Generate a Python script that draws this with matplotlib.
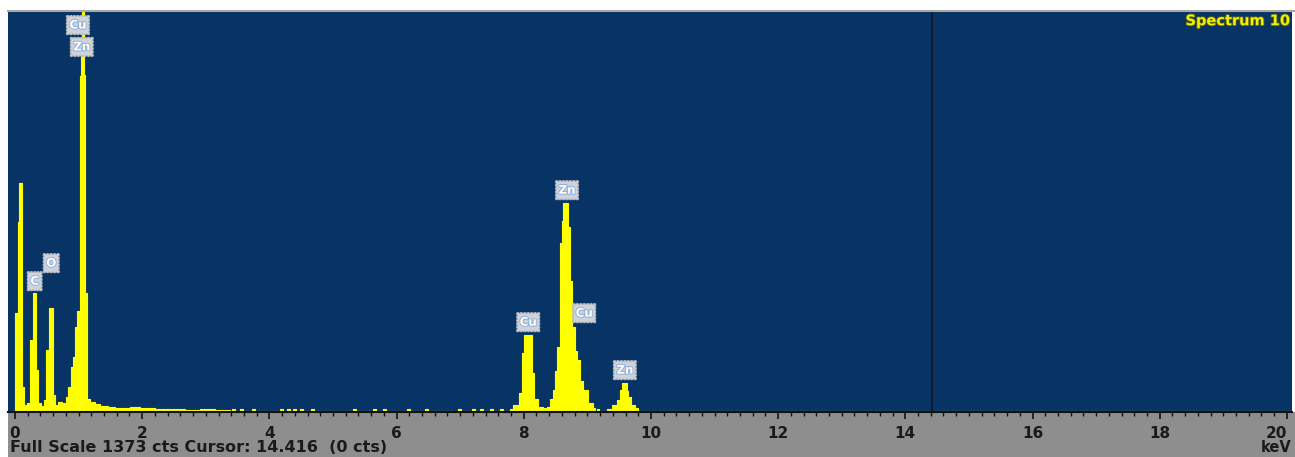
#!/usr/bin/env python3

import matplotlib
matplotlib.use("Agg")
import matplotlib.pyplot as plt
from matplotlib import ticker as mplticker
from matplotlib import patheffects as pe
from matplotlib.patches import Rectangle
from matplotlib.lines import Line2D

# EDS spectrum (step outline, value holds until next energy)
energy_kev = [-0.03, 0.00, 0.05, 0.06, 0.11, 0.14, 0.19, 0.24, 0.28, 0.33,
              0.36, 0.41, 0.46, 0.49, 0.53, 0.60, 0.63, 0.68, 0.74, 0.80,
              0.83, 0.88, 0.91, 0.94, 0.97, 1.02, 1.04, 1.05, 1.08, 1.10,
              1.13, 1.18, 1.26, 1.34, 1.46, 1.57, 1.81, 1.97, 2.20, 2.67,
              2.91, 3.14, 3.38,
              3.41, 3.46, 3.54, 3.58, 3.73, 3.77, 4.17, 4.21, 4.28, 4.32,
              4.37, 4.42, 4.48, 4.53, 4.65, 4.70, 5.31, 5.36, 5.63, 5.68,
              5.79, 5.83, 6.16, 6.21, 6.45, 6.49, 6.97, 7.01, 7.19, 7.23,
              7.31, 7.36, 7.47, 7.52, 7.63, 7.67,
              7.78, 7.83, 7.92, 7.97, 8.00, 8.13, 8.16, 8.22, 8.30, 8.36,
              8.41, 8.46, 8.49, 8.52, 8.57, 8.60, 8.62, 8.69, 8.73, 8.76,
              8.81, 8.84, 8.88, 8.93, 9.01, 9.09, 9.12, 9.15, 9.18, 9.31,
              9.39, 9.47, 9.51, 9.54, 9.62, 9.64, 9.69, 9.75, 9.80, 20.2]
counts = [0, 337, 650, 785, 83, 21, 28, 244, 406, 141,
          28, 17, 38, 210, 354, 55, 21, 31, 28, 48,
          83, 151, 186, 289, 344, 1153, 1222, 1373, 1156, 406,
          41, 31, 24, 17, 14, 10, 14, 10, 7, 3,
          7, 3, 0,
          7, 0, 7, 0, 7, 0, 7, 0, 7, 0,
          7, 0, 7, 0, 7, 0, 7, 0, 7, 0,
          7, 0, 7, 0, 7, 0, 7, 0, 7, 0,
          7, 0, 7, 0, 7, 0,
          7, 21, 62, 200, 262, 131, 41, 14, 10, 14,
          41, 72, 138, 220, 578, 654, 716, 633, 447, 289,
          206, 175, 103, 72, 28, 10, 0, 7, 0, 7,
          21, 38, 72, 96, 69, 48, 21, 10, 0, 0]

# element markers: label, energy (keV), counts
peak_labels = ["Cu", "Zn", "C", "O", "Cu", "Zn", "Cu", "Zn"]
peak_kev = [0.99, 1.05, 0.31, 0.57, 8.07, 8.68, 8.95, 9.59]
peak_cts = [1328, 1253, 447, 509, 306, 760, 337, 141]

full_scale = 1373
cursor_kev = 14.416
tick_values = list(range(0, 21, 2))

W, H = 1295, 457
fig = plt.figure(figsize=(W / 100, H / 100), dpi=100)
fig.patch.set_facecolor("white")

# grey status strip and thin top rule
fig.add_artist(Rectangle((8 / W, 0), 1 - 8 / W, 45 / H, transform=fig.transFigure,
                         facecolor="#8e8e8e", edgecolor="none", zorder=0))
fig.add_artist(Line2D([8 / W, 1], [1 - 10.5 / H, 1 - 10.5 / H], transform=fig.transFigure,
                      color="#a8a8a8", lw=1.5))

ax = fig.add_axes([8 / W, 45 / H, 1284 / W, 400 / H])
ax.set_facecolor("#073465")

ax.fill_between(energy_kev, 0, counts, step="post", color="#ffff00", lw=0)
ax.step(energy_kev, counts, where="post", color="#ffff00", lw=0.8)

ax.axvline(cursor_kev, color="#111a2a", lw=1.6)

for lab, e, c in zip(peak_labels, peak_kev, peak_cts):
  t = ax.text(e, c, lab, ha="center", va="center", fontsize=8.5, fontweight="bold",
              color="white",
              bbox=dict(boxstyle="roundtooth,pad=0.3,tooth_size=0.14",
                        facecolor="#cfd2d8", edgecolor="#b4b8be", lw=0.8))
  t.set_path_effects([pe.withStroke(linewidth=1.4, foreground="#8fb0dc")])

st = ax.text(20.06, full_scale * 0.997, "Spectrum 10", ha="right", va="top",
             fontsize=10.5, fontweight="bold", color="#f0f000")
st.set_path_effects([pe.withStroke(linewidth=1.2, foreground="#5a6010")])

ax.set_xlim(-0.11, 20.08)
ax.set_ylim(-3, full_scale)
ax.set_yticks([])
ax.set_xticks(tick_values)
ax.xaxis.set_minor_locator(mplticker.MultipleLocator(0.2))
ax.tick_params(axis="x", which="major", length=5, width=1.2, color="#111",
               labelsize=11, labelcolor="#1a1a1a", pad=5)
ax.tick_params(axis="x", which="minor", length=3, width=1, color="#111")
for lbl in ax.get_xticklabels():
  lbl.set_fontweight("bold")
ax.get_xticklabels()[-1].set_horizontalalignment("right")

for side in ["top", "left", "right"]:
  ax.spines[side].set_visible(False)
ax.spines["bottom"].set_color("#111")
ax.spines["bottom"].set_linewidth(1.5)

fig.text(10 / W, 9 / H, "Full Scale %d cts Cursor: %.3f  (0 cts)" % (full_scale, cursor_kev),
         ha="left", va="center", fontsize=11.5, fontweight="bold", color="#1a1a1a")
fig.text(1292 / W, 9 / H, "keV", ha="right", va="center", fontsize=10.5,
         fontweight="bold", color="#1a1a1a")

fig.savefig("out.png", dpi=100)
